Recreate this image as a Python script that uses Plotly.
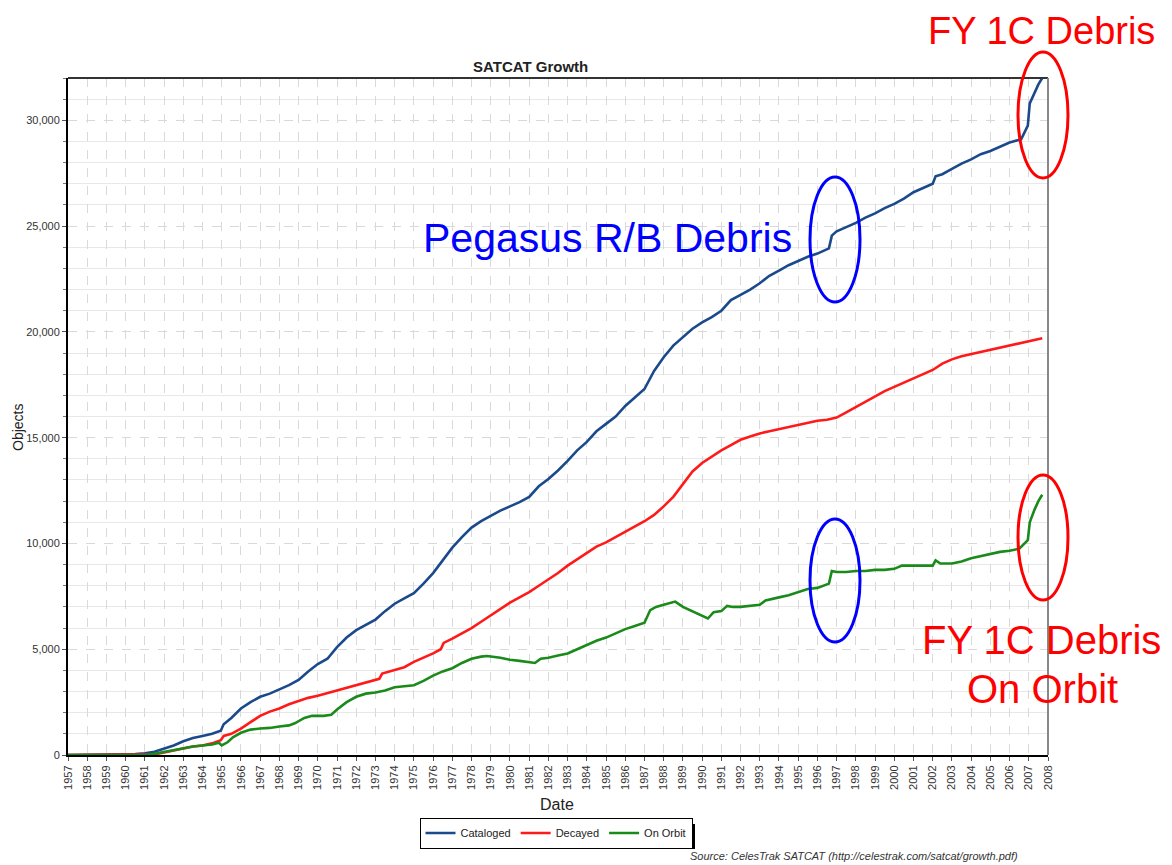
import plotly.graph_objects as go

# ---------------- data ----------------
cat_years = [1957.0, 1958.0, 1959.0, 1959.8, 1960.5, 1961.0, 1961.5, 1962.0, 1962.5, 1963.0,
             1963.5, 1964.0, 1964.5, 1964.95, 1965.1, 1965.5, 1966.0, 1966.5, 1967.0, 1967.5,
             1968.0, 1968.5, 1969.0, 1969.5, 1970.0, 1970.5, 1971.0, 1971.5, 1972.0, 1972.5,
             1973.0, 1973.5, 1974.0, 1974.5, 1975.0, 1975.5, 1976.0, 1976.5, 1977.0, 1977.5,
             1978.0, 1978.5, 1979.0, 1979.5, 1980.0, 1980.5, 1981.0, 1981.5, 1982.0, 1982.5,
             1983.0, 1983.5, 1984.0, 1984.5, 1985.0, 1985.5, 1986.0, 1986.5, 1987.0, 1987.5,
             1988.0, 1988.5, 1989.0, 1989.5, 1990.0, 1990.5, 1991.0, 1991.5, 1992.0, 1992.5,
             1993.0, 1993.5, 1994.0, 1994.5, 1995.0, 1995.5, 1996.0, 1996.6, 1996.75, 1997.0,
             1997.5, 1998.0, 1998.5, 1999.0, 1999.5, 2000.0, 2000.5, 2001.0, 2001.5, 2002.0,
             2002.15, 2002.5, 2003.0, 2003.5, 2004.0, 2004.5, 2005.0, 2005.5, 2006.0, 2006.6,
             2006.95, 2007.05, 2007.3, 2007.5, 2007.7]
cataloged = [0, 0, 5, 30, 50, 80, 150, 300, 450, 650,
             800, 900, 1000, 1150, 1450, 1750, 2200, 2500, 2750, 2900,
             3100, 3300, 3550, 3950, 4300, 4550, 5100, 5550, 5900, 6150,
             6400, 6800, 7150, 7400, 7650, 8100, 8600, 9200, 9800, 10300,
             10750, 11050, 11300, 11550, 11750, 11950, 12200, 12700, 13050, 13450,
             13900, 14400, 14800, 15300, 15650, 16000, 16500, 16900, 17300, 18150,
             18800, 19350, 19750, 20150, 20450, 20700, 21000, 21500, 21750, 22000,
             22300, 22650, 22900, 23150, 23350, 23550, 23700, 23950, 24550, 24750,
             24950, 25150, 25400, 25600, 25850, 26050, 26300, 26600, 26800, 27000,
             27350, 27450, 27700, 27950, 28150, 28400, 28550, 28750, 28950, 29100,
             29750, 30800, 31300, 31700, 32000]

dec_years = [1957.0, 1961.0, 1961.5, 1962.0, 1962.5, 1963.0, 1963.5, 1964.0, 1964.5, 1964.95,
             1965.1, 1965.5, 1966.0, 1966.5, 1967.0, 1967.5, 1968.0, 1968.5, 1969.0, 1969.5,
             1970.0, 1971.0, 1972.0, 1972.5, 1973.2, 1973.35, 1974.0, 1974.5, 1975.0, 1975.5,
             1976.0, 1976.4, 1976.55, 1977.0, 1977.5, 1978.0, 1978.5, 1979.0, 1979.5, 1980.0,
             1980.5, 1981.0, 1981.5, 1982.0, 1982.5, 1983.0, 1983.5, 1984.0, 1984.5, 1985.0,
             1985.5, 1986.0, 1986.5, 1987.0, 1987.5, 1988.0, 1988.5, 1989.0, 1989.5, 1990.0,
             1990.5, 1991.0, 1991.5, 1992.0, 1992.5, 1993.0, 1993.5, 1994.0, 1994.5, 1995.0,
             1995.5, 1996.0, 1996.5, 1997.0, 1997.5, 1998.0, 1998.5, 1999.0, 1999.5, 2000.0,
             2000.5, 2001.0, 2001.5, 2002.0, 2002.5, 2003.0, 2003.5, 2004.0, 2004.5, 2005.0,
             2005.5, 2006.0, 2006.5, 2007.0, 2007.4, 2007.7]
decayed = [0, 0, 30, 120, 220, 320, 400, 450, 550, 700,
           900, 1000, 1250, 1550, 1850, 2050, 2200, 2400, 2550, 2700,
           2800, 3050, 3300, 3450, 3600, 3850, 4000, 4150, 4400, 4600,
           4800, 5000, 5300, 5500, 5750, 6000, 6300, 6600, 6900, 7200,
           7450, 7700, 8000, 8300, 8600, 8950, 9250, 9550, 9850, 10050,
           10300, 10550, 10800, 11050, 11350, 11750, 12200, 12800, 13400, 13800,
           14100, 14400, 14650, 14900, 15050, 15200, 15300, 15400, 15500, 15600,
           15700, 15800, 15850, 15950, 16200, 16450, 16700, 16950, 17200, 17400,
           17600, 17800, 18000, 18200, 18500, 18700, 18850, 18950, 19050, 19150,
           19250, 19350, 19450, 19550, 19650, 19700]

orb_years = [1957.0, 1961.0, 1961.5, 1962.0, 1962.5, 1963.0, 1963.5, 1964.0, 1964.5, 1964.85,
             1965.0, 1965.3, 1965.6, 1966.0, 1966.5, 1967.0, 1967.5, 1968.0, 1968.5, 1968.8,
             1969.3, 1969.7, 1970.3, 1970.7, 1971.0, 1971.5, 1972.0, 1972.5, 1973.0, 1973.5,
             1974.0, 1974.5, 1975.0, 1975.5, 1976.0, 1976.5, 1977.0, 1977.5, 1978.0, 1978.5,
             1978.8, 1979.5, 1980.0, 1980.5, 1981.0, 1981.3, 1981.6, 1982.0, 1982.5, 1983.0,
             1983.5, 1984.0, 1984.5, 1985.0, 1985.5, 1986.0, 1986.5, 1987.0, 1987.3, 1987.6,
             1988.0, 1988.6, 1989.0, 1989.5, 1990.0, 1990.3, 1990.6, 1991.0, 1991.3, 1991.6,
             1992.0, 1992.5, 1993.0, 1993.3, 1993.6, 1994.0, 1994.5, 1995.0, 1995.5, 1996.0,
             1996.6, 1996.75, 1997.0, 1997.5, 1998.0, 1998.5, 1999.0, 1999.5, 2000.0, 2000.4,
             2001.0, 2001.5, 2002.0, 2002.15, 2002.4, 2003.0, 2003.5, 2004.0, 2004.5, 2005.0,
             2005.5, 2006.0, 2006.5, 2006.95, 2007.05, 2007.3, 2007.5, 2007.7]
on_orbit = [0, 0, 60, 150, 250, 330, 400, 450, 500, 580,
            450, 600, 850, 1050, 1200, 1250, 1280, 1350, 1400, 1500,
            1750, 1850, 1850, 1900, 2150, 2500, 2750, 2900, 2950, 3050,
            3200, 3250, 3300, 3500, 3750, 3950, 4100, 4350, 4550, 4650,
            4680, 4600, 4500, 4450, 4400, 4350, 4550, 4600, 4700, 4800,
            5000, 5200, 5400, 5550, 5750, 5950, 6100, 6250, 6850, 7000,
            7100, 7250, 7000, 6800, 6600, 6450, 6750, 6800, 7050, 7000,
            7000, 7050, 7100, 7300, 7350, 7450, 7550, 7700, 7850, 7900,
            8100, 8700, 8650, 8650, 8700, 8700, 8750, 8750, 8800, 8950,
            8950, 8950, 8950, 9200, 9050, 9050, 9150, 9300, 9400, 9500,
            9600, 9650, 9750, 10150, 11000, 11600, 12000, 12300]

year_ticks = list(range(1957, 2009))
series_names = ["Cataloged", "Decayed", "On Orbit"]
series_colors = ["#1b4a8c", "#ff1a1a", "#1a8a1a"]

# ---------------- figure ----------------
OFF = 8                       # page body margin
W, H = 1172 - OFF, 865 - OFF
L, R, T, B = 68, 1048, 78, 755   # plot area in page pixels


def px(x):
    return (x - L) / (R - L)


def py(y):
    return (B - y) / (B - T)


fig = go.Figure()
for xs, ys, name, col in zip([cat_years, dec_years, orb_years],
                             [cataloged, decayed, on_orbit],
                             series_names, series_colors):
    fig.add_trace(go.Scatter(x=xs, y=ys, mode="lines", name=name,
                             line=dict(color=col, width=2.6)))

font_family = "Liberation Sans, Arial, sans-serif"

fig.update_layout(
    width=W, height=H,
    margin=dict(l=L - OFF, r=W - (R - OFF), t=T - OFF, b=H - (B - OFF)),
    paper_bgcolor="white", plot_bgcolor="white",
    font=dict(family=font_family, color="#333333"),
    showlegend=True,
    legend=dict(orientation="h", x=px(556), y=py(833), xanchor="center", yanchor="middle",
                bordercolor="black", borderwidth=1, bgcolor="white",
                font=dict(size=11, color="#222222"), itemwidth=30,
                tracegroupgap=0),
)

fig.update_xaxes(
    range=[1957, 2008], tickmode="array", tickvals=year_ticks,
    ticktext=[str(y) for y in year_ticks], tickangle=-90,
    tickfont=dict(size=11, color="#333333"),
    ticks="outside", ticklen=4, tickcolor="#555555",
    showgrid=True, gridcolor="#d9d9d9", griddash="dash", gridwidth=1,
    showline=True, linecolor="black", linewidth=2, mirror=False,
    zeroline=False,
)
fig.update_yaxes(
    range=[0, 32000], tickmode="linear", tick0=0, dtick=5000, tickformat=",d",
    tickfont=dict(size=11, color="#333333"),
    ticks="outside", ticklen=4, tickcolor="#555555",
    showgrid=True, gridcolor="#d9d9d9", griddash="dash", gridwidth=1,
    minor=dict(dtick=1000, showgrid=True, gridcolor="#e8e8e8", griddash="solid",
               ticks="outside", ticklen=3, tickcolor="#777777"),
    showline=True, linecolor="black", linewidth=2,
    zeroline=False,
)

shapes = [
    dict(type="line", xref="paper", yref="paper", x0=0, x1=1, y0=1, y1=1,
         line=dict(color="#333333", width=2)),
    dict(type="line", xref="paper", yref="paper", x0=1, x1=1, y0=0, y1=1,
         line=dict(color="#888888", width=2)),
    # legend drop shadow
    dict(type="rect", xref="paper", yref="paper", x0=px(424), x1=px(695), y0=py(849), y1=py(824),
         fillcolor="black", line=dict(width=0), layer="below"),
]
ellipses = [
    (1018, 1068, 52, 178, "#ff0000"),
    (810, 860, 177, 302, "#0000ff"),
    (810, 860, 519, 642, "#0000ff"),
    (1018, 1068, 475, 600, "#ff0000"),
]
for x0, x1, y0, y1, col in ellipses:
    shapes.append(dict(type="circle", xref="paper", yref="paper",
                       x0=px(x0), x1=px(x1), y0=py(y1), y1=py(y0),
                       line=dict(color=col, width=3)))
fig.update_layout(shapes=shapes)

annotations = [
    dict(text="<b>SATCAT Growth</b>", x=px(530), y=py(66), font=dict(size=15, color="#222222")),
    dict(text="Date", x=px(557), y=py(804), font=dict(size=16, color="#222222")),
    dict(text="Objects", x=px(18), y=py(428), textangle=-90, font=dict(size=14, color="#222222")),
    dict(text="<i>Source: CelesTrak SATCAT (http://celestrak.com/satcat/growth.pdf)</i>",
         x=px(1020), y=py(856), xanchor="right", font=dict(size=11, color="#333333")),
    dict(text="FY 1C Debris", x=px(1041), y=py(31), font=dict(size=38, color="#ff0000")),
    dict(text="Pegasus R/B Debris", x=px(607), y=py(238), font=dict(size=41, color="#0000ff")),
    dict(text="FY 1C Debris", x=px(1041), y=py(640), font=dict(size=40, color="#ff0000")),
    dict(text="On Orbit", x=px(1042), y=py(689), font=dict(size=40, color="#ff0000")),
]
for a in annotations:
    a.setdefault("xanchor", "center")
    a.update(xref="paper", yref="paper", yanchor="middle", showarrow=False)
    a["font"]["family"] = font_family
fig.update_layout(annotations=annotations)

fig.write_html("out.html")
